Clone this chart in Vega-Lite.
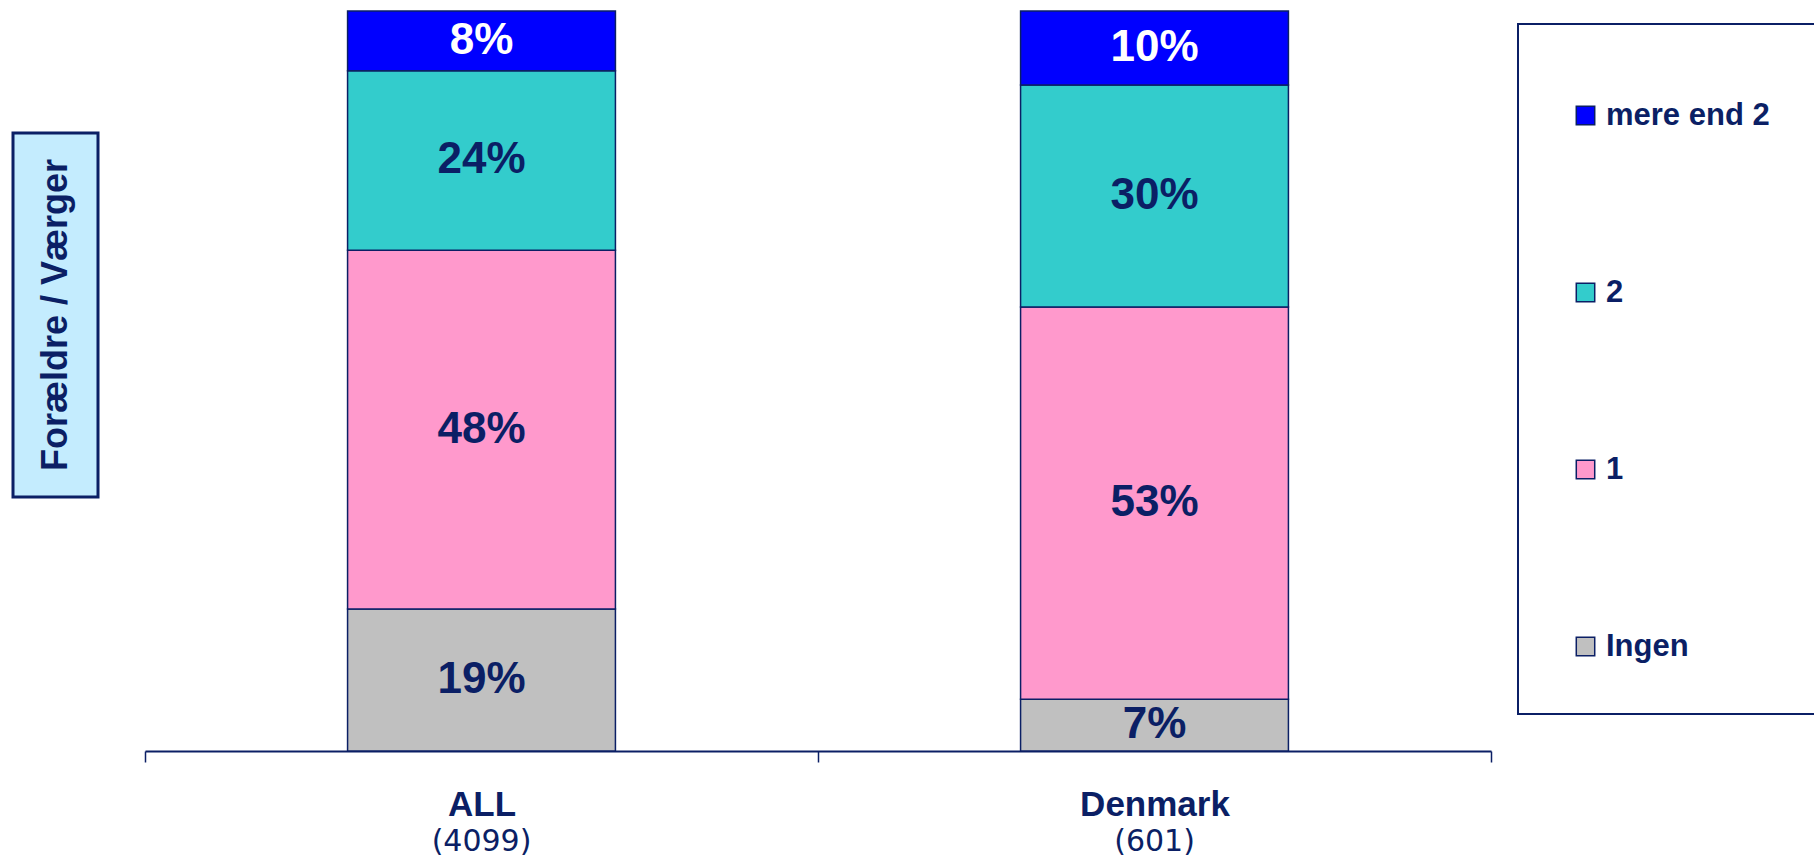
{
  "$schema": "https://vega.github.io/schema/vega-lite/v6.json",
  "padding": {"left": 11, "top": 10, "right": 0, "bottom": 0},
  "spacing": 44,
  "config": {"view": {"stroke": null}, "font": "Liberation Sans", "legend": {"strokeWidth": 2}},
  "resolve": {"legend": {"color": "independent"}},
  "hconcat": [
    {
      "spacing": 0,
      "vconcat": [
        {
          "width": 85,
          "height": 120,
          "view": {"fill": "#ffffff", "stroke": null},
          "data": {"values": [{"label": ""}]},
          "mark": {"type": "text"},
          "encoding": {"text": {"field": "label"}}
        },
        {
          "width": 85,
          "height": 364,
          "view": {"fill": "#c4ecfe", "stroke": "#0b1f65", "strokeWidth": 3},
          "data": {"values": [{"label": "Forældre / Værger"}]},
          "mark": {"type": "text", "angle": 270, "fontSize": 36, "fontWeight": "bold", "color": "#0b1f65", "align": "center", "baseline": "middle", "font": "Liberation Sans"},
          "encoding": {"text": {"field": "label"}}
        }
      ]
    },
    {
      "width": 1346,
      "height": 740,
      "data": {"values": [
        {"country": "ALL", "cat": "Ingen", "rank": 1, "pct": 0.19},
        {"country": "ALL", "cat": "1", "rank": 2, "pct": 0.48},
        {"country": "ALL", "cat": "2", "rank": 3, "pct": 0.24},
        {"country": "ALL", "cat": "mere end 2", "rank": 4, "pct": 0.08},
        {"country": "Denmark", "cat": "Ingen", "rank": 1, "pct": 0.07},
        {"country": "Denmark", "cat": "1", "rank": 2, "pct": 0.53},
        {"country": "Denmark", "cat": "2", "rank": 3, "pct": 0.30},
        {"country": "Denmark", "cat": "mere end 2", "rank": 4, "pct": 0.10}
      ]},
      "encoding": {
        "x": {
          "field": "country", "type": "nominal", "sort": ["ALL", "Denmark"],
          "scale": {"paddingInner": 0, "paddingOuter": 0},
          "axis": {
            "title": null, "labelAngle": 0, "tickBand": "extent", "tickSize": 11, "tickWidth": 1.5,
            "tickColor": "#0b1f65", "domainColor": "#0b1f65", "domainWidth": 2,
            "labelFont": "Liberation Sans", "labelFontSize": 35, "labelFontWeight": "bold", "labelColor": "#0b1f65",
            "labelBaseline": "alphabetic", "labelPadding": 53
          }
        }
      },
      "layer": [
        {
          "mark": {"type": "bar", "stroke": "#0b1f65", "strokeWidth": 1.5, "width": {"band": 0.398}},
          "encoding": {
            "y": {"field": "pct", "type": "quantitative", "stack": "normalize", "axis": null, "scale": {"domain": [0, 1]}},
            "order": {"field": "rank", "type": "quantitative"},
            "color": {
              "field": "cat", "type": "nominal",
              "scale": {"domain": ["mere end 2", "2", "1", "Ingen"], "range": ["#0000ff", "#33cccc", "#ff99cc", "#c0c0c0"]},
              "legend": {
                "title": " ", "titleFontSize": 12, "titlePadding": 12,
                "orient": "none", "legendX": 1373, "legendY": 13, "direction": "vertical",
                "symbolType": "square", "symbolSize": 340, "symbolStrokeColor": "#0b1f65", "symbolStrokeWidth": 1.5,
                "labelFont": "Liberation Sans", "labelFontSize": 31, "labelFontWeight": "bold", "labelColor": "#0b1f65",
                "labelOffset": 5, "labelLimit": 400, "rowPadding": 145,
                "padding": 52, "strokeColor": "#0b1f65", "fillColor": "#ffffff"
              }
            }
          }
        },
        {
          "mark": {"type": "text", "fontSize": 44, "fontWeight": "bold", "font": "Liberation Sans", "align": "center", "baseline": "middle"},
          "encoding": {
            "y": {"field": "pct", "type": "quantitative", "stack": "normalize", "bandPosition": 0.5},
            "order": {"field": "rank", "type": "quantitative"},
            "detail": {"field": "cat"},
            "text": {"field": "pct", "type": "quantitative", "format": ".0%"},
            "color": {"condition": {"test": "datum.cat === 'mere end 2'", "value": "#ffffff"}, "value": "#0b1f65"}
          }
        },
        {
          "data": {"values": [{"country": "ALL", "n": "(4099)"}, {"country": "Denmark", "n": "(601)"}]},
          "mark": {"type": "text", "fontSize": 30, "font": "DejaVu Sans", "color": "#0b1f65", "align": "center", "baseline": "alphabetic", "dy": 100},
          "encoding": {
            "y": {"datum": 0, "type": "quantitative"},
            "text": {"field": "n"}
          }
        }
      ]
    }
  ]
}
